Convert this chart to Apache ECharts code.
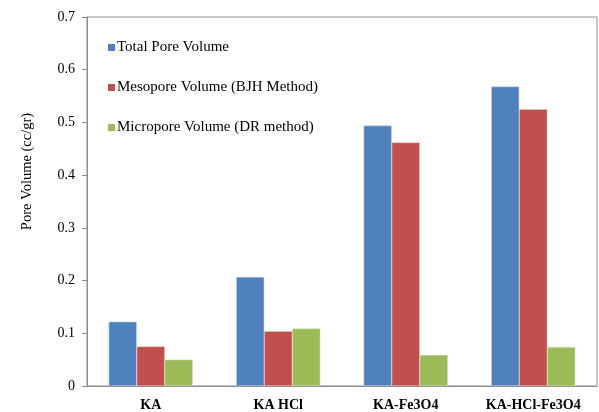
<!DOCTYPE html>
<html>
<head>
<meta charset="utf-8">
<script src="https://cdn.jsdelivr.net/npm/echarts@6/dist/echarts.min.js"></script>
<style>
  html, body { margin: 0; padding: 0; background: #fff; }
  #chart { width: 599px; height: 412px; }
</style>
</head>
<body>
<div id="chart"></div>
<script>
const categories = ['KA', 'KA HCl', 'KA-Fe3O4', 'KA-HCl-Fe3O4']
const totalPore = [0.122, 0.207, 0.494, 0.568]
const mesopore = [0.075, 0.104, 0.462, 0.525]
const micropore = [0.050, 0.109, 0.059, 0.074]

const serif = '"Liberation Serif", "DejaVu Serif", serif'

const chart = echarts.init(document.getElementById('chart'))
chart.setOption({
  animation: false,
  grid: {
    left: 87, right: 2, top: 17, bottom: 25,
    show: true, borderColor: '#8c8c8c', borderWidth: 1
  },
  legend: {
    orient: 'vertical',
    left: 103, top: 35,
    itemWidth: 7, itemHeight: 7, itemGap: 25,
    icon: 'rect',
    itemStyle: { borderWidth: 0 },
    textStyle: { fontFamily: serif, fontSize: 15, color: '#000', padding: [0, 0, 0, -3] },
    data: ['Total Pore Volume', 'Mesopore Volume (BJH Method)', 'Micropore Volume (DR method)']
  },
  xAxis: {
    type: 'category',
    data: categories,
    axisLine: { lineStyle: { color: '#8c8c8c' } },
    axisTick: { show: false },
    axisLabel: { fontFamily: serif, fontSize: 14, fontWeight: 'bold', color: '#000', margin: 12 }
  },
  yAxis: {
    type: 'value',
    min: 0, max: 0.7, interval: 0.1,
    name: 'Pore Volume (cc/gr)',
    nameLocation: 'middle',
    nameGap: 52,
    nameTextStyle: { fontFamily: serif, fontSize: 14.5, color: '#000', padding: [0, 0, 0, 60] },
    axisLine: { show: true, lineStyle: { color: '#8c8c8c' } },
    axisTick: { show: true, length: 5, lineStyle: { color: '#8c8c8c' } },
    axisLabel: { fontFamily: serif, fontSize: 14, color: '#000', margin: 12,
      formatter: v => v === 0 ? '0' : v.toFixed(1) },
    splitLine: { show: false }
  },
  series: [
    { name: 'Total Pore Volume', type: 'bar', data: totalPore, barGap: '0%', barCategoryGap: '34%',
      itemStyle: { color: '#4f81bd', borderColor: '#c6d7ec', borderWidth: 0.5 } },
    { name: 'Mesopore Volume (BJH Method)', type: 'bar', data: mesopore, barGap: '0%', barCategoryGap: '34%',
      itemStyle: { color: '#c0504d', borderColor: '#ecc6c5', borderWidth: 0.5 } },
    { name: 'Micropore Volume (DR method)', type: 'bar', data: micropore, barGap: '0%', barCategoryGap: '34%',
      itemStyle: { color: '#9bbb59', borderColor: '#dbe8c4', borderWidth: 0.5 } }
  ]
})
</script>
</body>
</html>
